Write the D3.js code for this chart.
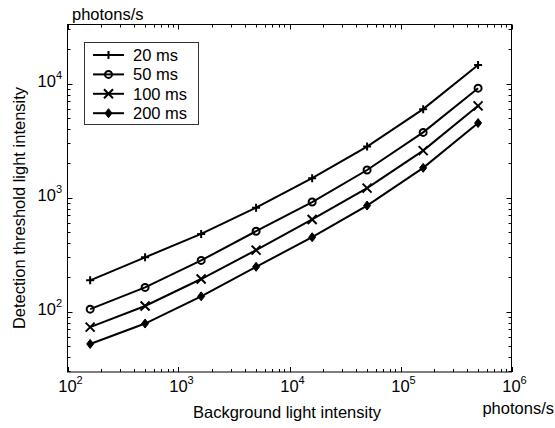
<!DOCTYPE html>
<html>
<head>
<meta charset="utf-8">
<script src="https://cdn.jsdelivr.net/npm/d3@7"></script>
<style>
  body { margin: 0; background: #fff; }
  svg { display: block; font-family: 'Liberation Sans', Arial, sans-serif; }
  .chart__axis line, .chart__axis path { stroke: #000; }
</style>
</head>
<body>
<div id="chart"></div>
<script>
// data
const intensity = [160, 500, 1600, 5000, 16000, 50000, 160000, 500000];
const thr20 = [188, 299, 480, 816, 1480, 2800, 5970, 14550];
const thr50 = [105, 163, 281, 507, 914, 1746, 3733, 9120];
const thr100 = [73, 112, 193, 346, 643, 1211, 2582, 6380];
const thr200 = [52, 78.5, 136, 247, 449, 851, 1824, 4508];
const seriesNames = ['20 ms', '50 ms', '100 ms', '200 ms'];
const xExponents = [2, 3, 4, 5, 6];
const yExponents = [2, 3, 4];

const series = [thr20, thr50, thr100, thr200].map((vals, i) => ({
  name: seriesNames[i],
  marker: ['plus', 'circle', 'cross', 'diamond'][i],
  points: vals.map((v, j) => [intensity[j], v]),
}));

const canvasWidth = 555;
const canvasHeight = 428;
const plot = { left: 67.5, right: 511.5, top: 24.5, bottom: 372 };
const fontSize = 16.5;

const svg = d3.select('#chart')
  .append('svg')
  .attr('width', canvasWidth)
  .attr('height', canvasHeight);

const scaleX = d3.scaleLog()
  .domain([100, 1e6])
  .range([plot.left, plot.right]);
const scaleY = d3.scaleLog()
  .domain([29.5, 33000])
  .range([plot.bottom, plot.top]);

const isMajor = v => Math.abs(Math.log10(v) - Math.round(Math.log10(v))) < 1e-9;

// frame
svg.append('rect')
  .attr('x', plot.left)
  .attr('y', plot.top)
  .attr('width', plot.right - plot.left)
  .attr('height', plot.bottom - plot.top)
  .attr('fill', 'none')
  .attr('stroke', '#000')
  .attr('stroke-width', 1);

// ticks on all four sides, pointing inward
const ticks = svg.append('g').attr('class', 'chart__axis');
scaleX.ticks().forEach(v => {
  const x = Math.round(scaleX(v)) + 0.5;
  const len = isMajor(v) ? 5 : 3;
  ticks.append('line').attr('x1', x).attr('x2', x)
    .attr('y1', plot.bottom).attr('y2', plot.bottom - len);
  ticks.append('line').attr('x1', x).attr('x2', x)
    .attr('y1', plot.top).attr('y2', plot.top + len);
});
scaleY.ticks().forEach(v => {
  const y = Math.round(scaleY(v)) + 0.5;
  const len = isMajor(v) ? 5 : 3;
  ticks.append('line').attr('y1', y).attr('y2', y)
    .attr('x1', plot.left).attr('x2', plot.left + len);
  ticks.append('line').attr('y1', y).attr('y2', y)
    .attr('x1', plot.right).attr('x2', plot.right - len);
});

// tick labels as 10^n
function powerLabel(g, n, anchor) {
  const t = g.append('text')
    .attr('text-anchor', anchor)
    .attr('font-size', fontSize)
    .attr('fill', '#000');
  t.append('tspan').text('10');
  t.append('tspan').attr('dy', -8).attr('font-size', 11).text(n);
  return t;
}
const labels = svg.append('g');
xExponents.forEach(n => {
  powerLabel(labels, n, 'middle')
    .attr('x', scaleX(Math.pow(10, n)) + 3)
    .attr('y', plot.bottom + 20);
});
yExponents.forEach(n => {
  powerLabel(labels, n, 'end')
    .attr('x', plot.left - 5.5)
    .attr('y', scaleY(Math.pow(10, n)) + 3);
});

// axis titles and units
svg.append('text')
  .attr('x', 193)
  .attr('y', 418)
  .attr('font-size', fontSize)
  .text('Background light intensity');
svg.append('text')
  .attr('transform', 'translate(25, 208) rotate(-90)')
  .attr('text-anchor', 'middle')
  .attr('font-size', fontSize)
  .text('Detection threshold light intensity');
svg.append('text')
  .attr('x', 554)
  .attr('y', 414)
  .attr('text-anchor', 'end')
  .attr('font-size', fontSize)
  .text('photons/s');
svg.append('text')
  .attr('x', 72)
  .attr('y', 20)
  .attr('font-size', fontSize)
  .text('photons/s');

// markers
function drawMarker(g, type, x, y) {
  if (type === 'plus') {
    g.append('path').attr('d', `M${x - 4},${y}H${x + 4}M${x},${y - 4}V${y + 4}`)
      .attr('stroke', '#000').attr('stroke-width', 2);
  } else if (type === 'circle') {
    g.append('circle').attr('cx', x).attr('cy', y).attr('r', 3.5)
      .attr('fill', 'none').attr('stroke', '#000').attr('stroke-width', 2);
  } else if (type === 'cross') {
    g.append('path').attr('d', `M${x - 4.5},${y - 4.5}L${x + 4.5},${y + 4.5}M${x - 4.5},${y + 4.5}L${x + 4.5},${y - 4.5}`)
      .attr('stroke', '#000').attr('stroke-width', 2);
  } else {
    g.append('path').attr('d', `M${x},${y - 4.5}L${x + 3.5},${y}L${x},${y + 4.5}L${x - 3.5},${y}Z`)
      .attr('fill', '#000').attr('stroke', '#000').attr('stroke-width', 1);
  }
}

const line = d3.line()
  .x(d => scaleX(d[0]))
  .y(d => scaleY(d[1]));

const lines = svg.append('g').attr('class', 'chart__lines');
series.forEach(s => {
  lines.append('path')
    .attr('d', line(s.points))
    .attr('fill', 'none')
    .attr('stroke', '#000')
    .attr('stroke-width', 2);
  s.points.forEach(p => drawMarker(lines, s.marker, scaleX(p[0]), scaleY(p[1])));
});

// legend
const legend = svg.append('g').attr('class', 'chart__legend');
legend.append('rect')
  .attr('x', 84.5).attr('y', 42.5)
  .attr('width', 114).attr('height', 82)
  .attr('fill', '#fff')
  .attr('stroke', '#333')
  .attr('stroke-width', 1);
series.forEach((s, i) => {
  const y = 55 + i * 19.4;
  legend.append('line')
    .attr('x1', 93).attr('x2', 124)
    .attr('y1', y).attr('y2', y)
    .attr('stroke', '#000').attr('stroke-width', 2);
  drawMarker(legend, s.marker, 108.5, y);
  legend.append('text')
    .attr('x', 133).attr('y', y + 6)
    .attr('font-size', fontSize)
    .text(s.name);
});
</script>
</body>
</html>
